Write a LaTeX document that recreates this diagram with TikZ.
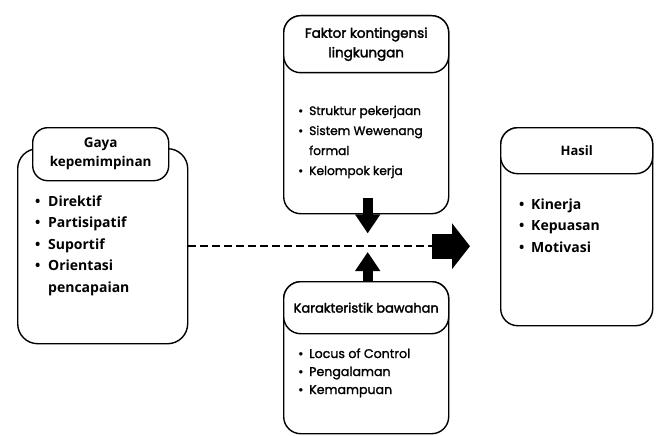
\documentclass[tikz,border=0pt]{standalone}
\usepackage{fontspec}
\setmainfont{Open Sans}
\newfontfamily\popfont{Poppins}[UprightFeatures={FakeBold=1.4}]
\newfontfamily\pophead{Poppins}[UprightFeatures={FakeBold=2.2}]
\usetikzlibrary{arrows.meta}

\newcommand{\bul}[1]{\makebox[#1][l]{\textbullet}}

\begin{document}
\begin{tikzpicture}[
    x=1pt, y=-1pt,
    box/.style={draw, line width=1.4pt, rounded corners=17pt, fill=white,
      anchor=north west, inner sep=0pt},
    head/.style={box, align=center},
    list/.style={anchor=base west, inner sep=0pt},
    blockarrow/.style={line width=10pt, -{Triangle[width=24pt,length=19pt]}},
    >=Stealth
  ]
  \useasboundingbox (0,0) rectangle (656,436);

  % Gaya kepemimpinan
  \node[box, rounded corners=20pt, minimum width=170pt, minimum height=195pt] (gaya) at (17,148) {};
  \node[head, rounded corners=15pt, minimum width=136pt, minimum height=53pt,
    font=\bfseries\fontsize{13.5}{19}\selectfont] (gayaHead) at (32,127) {Gaya\\kepemimpinan};
  \node[list, font=\bfseries\fontsize{14}{21.5}\selectfont] (gayaList) at (35,206)
    {\begin{tabular}[t]{@{}l@{}}
      \bul{13pt}Direktif\\
      \bul{13pt}Partisipatif\\
      \bul{13pt}Suportif\\
      \bul{13pt}Orientasi\\
      \hspace*{13pt}pencapaian
    \end{tabular}};

  % Faktor kontingensi lingkungan
  \node[box, minimum width=165pt, minimum height=198pt] (faktor) at (283,15) {};
  \node[head, minimum width=165pt, minimum height=57pt,
    font=\pophead\fontsize{13.5}{19.5}\selectfont] (faktorHead) at (283,15) {Faktor kontingensi\\lingkungan};
  \node[list, font=\popfont\fontsize{12.2}{20}\selectfont] (faktorList) at (298,115)
    {\begin{tabular}[t]{@{}l@{}}
      \bul{11pt}Struktur pekerjaan\\
      \bul{11pt}Sistem Wewenang\\
      \hspace*{11pt}formal\\
      \bul{11pt}Kelompok kerja
    \end{tabular}};

  % Karakteristik bawahan
  \node[box, minimum width=165pt, minimum height=152pt] (bawahan) at (283,281) {};
  \node[head, minimum width=165pt, minimum height=52pt,
    font=\pophead\fontsize{13}{19}\selectfont] (bawahanHead) at (283,281) {Karakteristik bawahan};
  \node[list, font=\popfont\fontsize{12.6}{18}\selectfont] (bawahanList) at (298,358)
    {\begin{tabular}[t]{@{}l@{}}
      \bul{11pt}Locus of Control\\
      \bul{11pt}Pengalaman\\
      \bul{11pt}Kemampuan
    \end{tabular}};

  % Hasil
  \node[box, minimum width=152pt, minimum height=198pt] (hasil) at (500,127) {};
  \node[head, minimum width=152pt, minimum height=46pt,
    font=\bfseries\fontsize{13}{19}\selectfont] (hasilHead) at (500,127) {Hasil};
  \node[list, font=\bfseries\fontsize{14}{21.5}\selectfont] (hasilList) at (519,209)
    {\begin{tabular}[t]{@{}l@{}}
      \bul{12pt}Kinerja\\
      \bul{12pt}Kepuasan\\
      \bul{12pt}Motivasi
    \end{tabular}};

  % arrows
  \coordinate (dashEnd) at (432,0);
  \coordinate (fatTip) at (470,0);
  \draw[line width=2.5pt, dash pattern=on 8pt off 4pt] (gaya.east) -- (gaya.east -| dashEnd);
  \draw[line width=25pt, -{Triangle[width=45pt,length=18pt]}] (gaya.east -| dashEnd) -- (gaya.east -| fatTip);
  \draw[blockarrow] ([xshift=1.5pt,yshift=16pt]faktor.south) -- ([xshift=1.5pt,yshift=-19pt]faktor.south);
  \draw[blockarrow] ([xshift=1.5pt]bawahan.north) -- ([xshift=1.5pt,yshift=29pt]bawahan.north);
\end{tikzpicture}
\end{document}
